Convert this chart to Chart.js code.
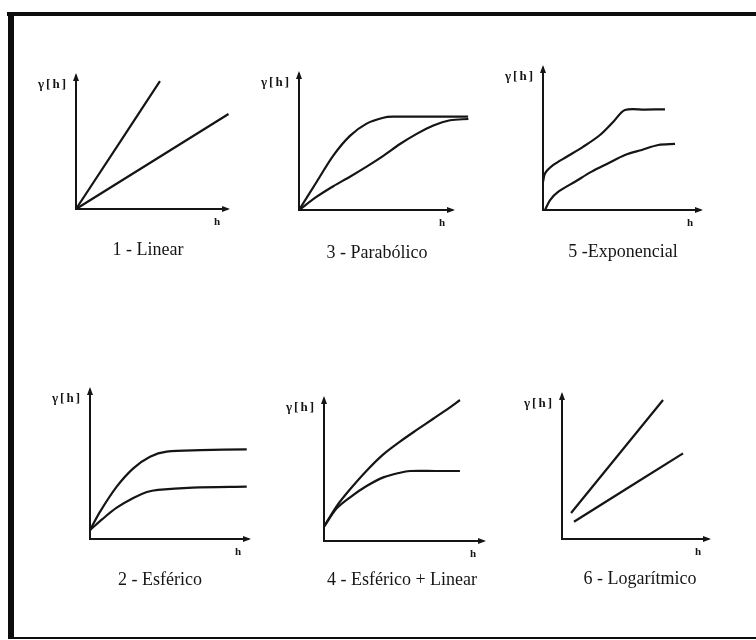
<!DOCTYPE html>
<html>
<head>
<meta charset="utf-8">
<title>Modelos de variograma</title>
<script src="https://cdn.jsdelivr.net/npm/chart.js@4.4.0/dist/chart.umd.min.js"></script>
<style>
    html, body { margin: 0; padding: 0; background: #fff; }
    #sheet { position: relative; width: 756px; height: 640px; overflow: hidden; background: #fff; }
    .frame { position: absolute; background: #0d0d0d; }
    .panel { position: absolute; }
</style>
</head>
<body>
<div id="sheet">
    <div class="frame" style="left:7px; top:12px; width:749px; height:4px;"></div>
    <div class="frame" style="left:8px; top:12px; width:6px; height:627px;"></div>
    <div class="frame" style="left:8px; top:637px; width:748px; height:2px;"></div>
</div>
<script>
// Variogram models, h on the x axis, gamma(h) on the y axis (both 0..10)

// 1 - Linear
const linearSteepH = [0, 5.56];
const linearSteepG = [0, 9.62];
const linearMildH = [0, 10.1];
const linearMildG = [0, 7.14];

// 3 - Parabólico
const paraUpperH = [0, 1.16, 2.24, 3.33, 4.42, 5.51, 6.14, 8.5, 11.05];
const paraUpperG = [0, 2.08, 4.0, 5.45, 6.35, 6.78, 6.86, 6.86, 6.86];
const paraLowerH = [0, 1.16, 2.24, 3.33, 4.42, 5.51, 6.6, 7.69, 8.78, 9.87, 11.07];
const paraLowerG = [0, 0.98, 1.75, 2.45, 3.19, 3.98, 4.85, 5.6, 6.22, 6.6, 6.69];

// 5 - Exponencial
const expUpperH = [0, 0.13, 0.66, 1.51, 2.57, 3.63, 4.48, 5.22, 6.5, 7.77];
const expUpperG = [1.97, 2.58, 3.17, 3.75, 4.46, 5.28, 6.22, 7.04, 7.07, 7.09];
const expLowerH = [0.13, 0.45, 0.98, 2.04, 3.1, 4.16, 5.22, 6.29, 7.34, 8.41];
const expLowerG = [0, 0.7, 1.29, 1.99, 2.7, 3.29, 3.87, 4.23, 4.58, 4.65];

// 2 - Esférico
const sphUpperH = [0, 0.63, 1.69, 2.74, 3.8, 4.85, 7.0, 9.92];
const sphUpperG = [0.6, 1.82, 3.51, 4.74, 5.52, 5.86, 5.96, 6.02];
const sphLowerH = [0, 0.8, 1.69, 2.74, 3.6, 4.3, 6.5, 9.92];
const sphLowerG = [0.6, 1.35, 2.1, 2.75, 3.15, 3.3, 3.45, 3.51];

// 4 - Esférico + Linear
const sphLinUpperH = [0, 0.8, 1.64, 2.68, 3.73, 4.78, 5.83, 6.87, 7.92, 8.55];
const sphLinUpperG = [1.01, 2.46, 3.64, 4.95, 6.1, 7.0, 7.82, 8.61, 9.41, 9.93];
const sphLinLowerH = [0, 0.8, 1.64, 2.68, 3.73, 4.78, 5.41, 7.0, 8.55];
const sphLinLowerG = [1.01, 2.3, 3.08, 3.87, 4.48, 4.81, 4.93, 4.93, 4.93];

// 6 - Logarítmico
const logUpperH = [0.62, 6.92];
const logUpperG = [1.81, 9.65];
const logLowerH = [0.82, 8.29];
const logLowerG = [1.2, 5.95];

// Panel layout: area = [left, top, width, height] of the axes box on the page
const panels = [
    { title: '1 - Linear', area: [76, 76, 151, 133], titleAt: [148, 250],
      curves: [[linearSteepH, linearSteepG], [linearMildH, linearMildG]] },
    { title: '3 - Parabólico', area: [299, 74, 153, 136], titleAt: [377, 253],
      curves: [[paraUpperH, paraUpperG], [paraLowerH, paraLowerG]] },
    { title: '5 -Exponencial', area: [543, 68, 157, 142], titleAt: [623, 252],
      curves: [[expUpperH, expUpperG], [expLowerH, expLowerG]] },
    { title: '2 - Esférico', area: [90, 390, 158, 149], titleAt: [160, 580],
      curves: [[sphUpperH, sphUpperG], [sphLowerH, sphLowerG]] },
    { title: '4 - Esférico + Linear', area: [324, 399, 159, 142], titleAt: [402, 580],
      curves: [[sphLinUpperH, sphLinUpperG], [sphLinLowerH, sphLinLowerG]] },
    { title: '6 - Logarítmico', area: [562, 395, 146, 144], titleAt: [640, 579],
      curves: [[logUpperH, logUpperG], [logLowerH, logLowerG]] }
];

const INK = '#151515';
const PAD = { left: 60, top: 15, right: 30, bottom: 62 };

// Arrow heads, axis labels and the model name
const variogramDecor = {
    id: 'variogramDecor',
    afterDraw(chart, args, opts) {
        const ctx = chart.ctx;
        const a = chart.chartArea;
        ctx.save();
        ctx.fillStyle = INK;

        // arrow on top of the gamma axis
        ctx.beginPath();
        ctx.moveTo(a.left, a.top - 3);
        ctx.lineTo(a.left - 3, a.top + 5);
        ctx.lineTo(a.left + 3, a.top + 5);
        ctx.closePath();
        ctx.fill();

        // arrow at the end of the h axis
        ctx.beginPath();
        ctx.moveTo(a.right + 3, a.bottom);
        ctx.lineTo(a.right - 5, a.bottom - 3);
        ctx.lineTo(a.right - 5, a.bottom + 3);
        ctx.closePath();
        ctx.fill();

        ctx.textBaseline = 'middle';
        ctx.font = 'bold 13px "Liberation Serif", serif';
        ctx.letterSpacing = '2px';
        ctx.textAlign = 'right';
        ctx.fillText('γ[h]', a.left - 8, a.top + 9);

        ctx.letterSpacing = '0px';
        ctx.font = 'bold 11px "Liberation Serif", serif';
        ctx.textAlign = 'center';
        ctx.fillText('h', a.right - 10, a.bottom + 13);

        ctx.font = '18px "Liberation Serif", serif';
        ctx.fillText(opts.title, opts.titleX, opts.titleY);
        ctx.restore();
    }
};

function axisOptions() {
    return {
        type: 'linear',
        min: 0,
        max: 10,
        grid: { display: false, drawTicks: false },
        ticks: { display: false },
        border: { display: true, color: INK, width: 2 }
    };
}

function buildPanel(panel) {
    const [left, top, width, height] = panel.area;
    const canvasLeft = left - PAD.left;
    const canvasTop = top - PAD.top;
    const w = width + PAD.left + PAD.right;
    const h = height + PAD.top + PAD.bottom;

    const box = document.createElement('div');
    box.className = 'panel';
    box.style.left = canvasLeft + 'px';
    box.style.top = canvasTop + 'px';
    box.style.width = w + 'px';
    box.style.height = h + 'px';
    const canvas = document.createElement('canvas');
    canvas.width = w;
    canvas.height = h;
    canvas.style.width = w + 'px';
    canvas.style.height = h + 'px';
    box.appendChild(canvas);
    document.getElementById('sheet').appendChild(box);

    const datasets = panel.curves.map(([hs, gs]) => ({
        data: hs.map((x, i) => ({ x: x, y: gs[i] })),
        borderColor: INK,
        borderWidth: 2.2,
        pointRadius: 0,
        fill: false,
        clip: false,
        tension: 0.3
    }));

    new Chart(canvas, {
        type: 'line',
        data: { datasets: datasets },
        options: {
            responsive: false,
            animation: false,
            events: [],
            layout: { padding: PAD },
            scales: { x: axisOptions(), y: axisOptions() },
            plugins: {
                legend: { display: false },
                tooltip: { enabled: false },
                variogramDecor: {
                    title: panel.title,
                    titleX: panel.titleAt[0] - canvasLeft,
                    titleY: panel.titleAt[1] - canvasTop
                }
            }
        },
        plugins: [variogramDecor]
    });
}

panels.forEach(buildPanel);
</script>
</body>
</html>
